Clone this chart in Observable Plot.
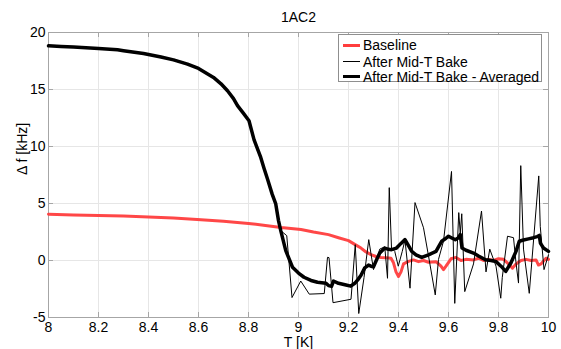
<!DOCTYPE html>
<html>
<head>
<meta charset="utf-8">
<script src="https://cdn.jsdelivr.net/npm/d3@7"></script>
<script src="https://cdn.jsdelivr.net/npm/@observablehq/plot@0.6"></script>
<style>
  html, body { margin: 0; padding: 0; background: #fff; }
  #wrap { position: relative; width: 561px; height: 349px; font-family: "Liberation Sans", Arial, sans-serif; }
  #legend { position: absolute; left: 338px; top: 34px; width: 204px; height: 48px; border: 1px solid #8f8f8f; background: #fff; box-sizing: border-box; }
  .row { position: absolute; left: 0; height: 16px; font-size: 14px; line-height: 16px; color: #000; white-space: nowrap; }
  .row .sw { position: absolute; left: 4px; width: 17px; top: 8px; }
  .row .lb { position: absolute; left: 24px; top: 0; }
</style>
</head>
<body>
<div id="wrap"></div>
<script>
const title = "1AC2";
const xLabel = "T [K]";
const yLabel = "Δ f [kHz]";
const seriesNames = ["Baseline", "After Mid-T Bake", "After Mid-T Bake - Averaged"];
const xTicks = [8, 8.2, 8.4, 8.6, 8.8, 9, 9.2, 9.4, 9.6, 9.8, 10];
const yTicks = [-5, 0, 5, 10, 15, 20];

// Baseline (red)
const baseT = [8.00, 8.10, 8.20, 8.30, 8.40, 8.50, 8.61, 8.70, 8.80, 8.86, 8.93, 9.01, 9.06, 9.12, 9.16, 9.20, 9.23, 9.25, 9.27, 9.29, 9.31, 9.33, 9.35, 9.37, 9.38, 9.39, 9.40, 9.41, 9.42, 9.44, 9.46, 9.48, 9.50, 9.52, 9.55, 9.57, 9.58, 9.59, 9.61, 9.63, 9.65, 9.67, 9.70, 9.72, 9.74, 9.76, 9.78, 9.80, 9.82, 9.84, 9.856, 9.87, 9.89, 9.91, 9.93, 9.95, 9.96, 9.97, 9.99, 10.0];
const baseF = [4.05, 4.00, 3.95, 3.90, 3.82, 3.72, 3.58, 3.45, 3.25, 3.10, 2.90, 2.72, 2.50, 2.27, 2.00, 1.74, 1.35, 1.09, 0.75, 0.52, 0.35, 0.27, 0.25, 0.20, -0.20, -1.00, -1.40, -1.00, -0.30, -0.08, 0.05, -0.10, 0.00, -0.15, -0.10, -0.50, -0.80, -0.50, 0.15, 0.27, 0.00, 0.10, 0.05, 0.20, 0.00, 0.10, 0.00, 0.15, 0.10, -0.30, -0.67, -0.30, 0.00, 0.10, 0.00, 0.05, -0.40, -0.30, 0.20, 0.10];

// After Mid-T Bake (raw, thin black)
const rawT = [8.00, 8.05, 8.10, 8.15, 8.20, 8.276, 8.30, 8.38, 8.45, 8.50, 8.556, 8.60, 8.66, 8.69, 8.716, 8.74, 8.75, 8.756, 8.78, 8.802, 8.815, 8.822, 8.836, 8.849, 8.862, 8.876, 8.895, 8.909, 8.92, 8.929, 8.953, 8.974, 9.009, 9.043, 9.103, 9.116, 9.122, 9.138, 9.21, 9.227, 9.241, 9.262, 9.281, 9.30, 9.325, 9.345, 9.356, 9.363, 9.372, 9.385, 9.399, 9.415, 9.426, 9.446, 9.466, 9.50, 9.52, 9.547, 9.56, 9.58, 9.612, 9.625, 9.641, 9.647, 9.653, 9.665, 9.70, 9.732, 9.75, 9.765, 9.79, 9.809, 9.815, 9.836, 9.86, 9.87, 9.88, 9.889, 9.90, 9.923, 9.961, 9.967, 9.982, 10.0];
const rawF = [18.85, 18.76, 18.74, 18.64, 18.62, 18.46, 18.42, 18.14, 17.88, 17.58, 17.25, 16.82, 16.10, 15.45, 14.95, 14.10, 13.95, 13.50, 12.95, 12.20, 11.20, 10.80, 9.60, 9.20, 8.00, 7.25, 5.70, 5.05, 3.40, 2.62, 2.18, -3.25, -1.80, -2.95, -2.90, 0.28, 0.25, -3.70, -3.40, 1.39, -4.65, -1.50, 1.83, -0.80, 1.00, 1.20, -1.56, 6.39, 1.09, 0.80, -0.50, 0.80, 1.80, -2.43, 5.08, 2.87, 0.40, -3.02, 0.10, 1.70, 7.81, -3.76, 4.20, 2.40, 4.10, -2.73, -0.30, 4.34, -1.00, 1.00, -0.50, -3.31, -1.50, 2.13, 2.00, -0.20, -1.98, 8.32, 1.00, -2.88, 7.42, 3.00, -0.80, 0.50];

// After Mid-T Bake - Averaged (thick black)
const avgT = [8.00, 8.05, 8.10, 8.15, 8.20, 8.276, 8.30, 8.38, 8.45, 8.50, 8.556, 8.60, 8.66, 8.69, 8.716, 8.74, 8.756, 8.78, 8.802, 8.822, 8.836, 8.849, 8.862, 8.876, 8.895, 8.909, 8.92, 8.929, 8.949, 8.976, 9.00, 9.022, 9.05, 9.076, 9.11, 9.12, 9.132, 9.14, 9.16, 9.19, 9.209, 9.225, 9.237, 9.25, 9.265, 9.28, 9.29, 9.30, 9.315, 9.325, 9.345, 9.36, 9.372, 9.392, 9.41, 9.426, 9.44, 9.453, 9.47, 9.493, 9.52, 9.55, 9.56, 9.573, 9.59, 9.60, 9.615, 9.627, 9.64, 9.647, 9.654, 9.67, 9.70, 9.72, 9.748, 9.77, 9.789, 9.81, 9.829, 9.85, 9.87, 9.883, 9.90, 9.92, 9.94, 9.955, 9.963, 9.968, 9.98, 10.0];
const avgF = [18.83, 18.78, 18.72, 18.66, 18.60, 18.48, 18.40, 18.16, 17.85, 17.60, 17.23, 16.85, 16.06, 15.50, 14.89, 14.20, 13.58, 12.90, 12.26, 10.60, 9.80, 9.04, 8.10, 7.15, 5.80, 4.96, 3.50, 2.62, 0.87, -0.59, -1.10, -1.47, -1.75, -1.91, -2.00, -2.20, -2.27, -1.80, -2.00, -2.15, -2.25, -2.00, -1.70, -1.30, -0.65, -0.40, -0.50, -0.55, 0.20, 0.65, 1.09, 0.98, 0.95, 1.09, 1.50, 1.83, 1.30, 0.80, 0.50, 0.27, 0.50, 0.80, 1.20, 1.69, 1.95, 2.13, 1.95, 1.83, 2.00, 2.27, 1.09, 0.90, 0.65, 0.40, 0.07, 0.00, -0.08, -0.50, -0.96, -0.20, 0.80, 1.69, 1.80, 1.90, 2.00, 2.10, 2.20, 1.50, 1.10, 0.80];

const toRows = (xs, ys) => xs.map((x, i) => ({x, y: ys[i]}));
const base = toRows(baseT, baseF);
const raw = toRows(rawT, rawF);
const avg = toRows(avgT, avgF);

const colors = ["#ff3d3d", "#000000", "#000000"];
const widths = [3, 1, 3.5];
const font = "'Liberation Sans', Arial, sans-serif";

const chart = Plot.plot({
  width: 561,
  height: 349,
  marginLeft: 48,
  marginRight: 13,
  marginTop: 32,
  marginBottom: 32,
  style: {fontFamily: font, fontSize: "14px", color: "#000", background: "#fff"},
  x: {domain: [8, 10], ticks: xTicks},
  y: {domain: [-5, 20], ticks: yTicks},
  marks: [
    Plot.gridX(xTicks, {stroke: "#e6e6e6", strokeOpacity: 1}),
    Plot.gridY(yTicks, {stroke: "#e6e6e6", strokeOpacity: 1}),
    Plot.tickX(xTicks, {x: d => d, insetTop: 280, stroke: "#a6a6a6"}),
    Plot.tickX(xTicks, {x: d => d, insetBottom: 280, stroke: "#a6a6a6"}),
    Plot.tickY(yTicks, {y: d => d, insetRight: 495, stroke: "#a6a6a6"}),
    Plot.tickY(yTicks, {y: d => d, insetLeft: 495, stroke: "#a6a6a6"}),
    Plot.frame({stroke: "#a6a6a6"}),
    Plot.axisX(xTicks, {tickSize: 0, tickPadding: 5, fontSize: 14, tickFormat: d => String(d), label: null}),
    Plot.axisY(yTicks, {tickSize: 0, tickPadding: 3, fontSize: 14, tickFormat: d => String(d), label: null}),
    Plot.line(base, {x: "x", y: "y", stroke: colors[0], strokeWidth: widths[0], strokeOpacity: 0.95}),
    Plot.line(raw, {x: "x", y: "y", stroke: colors[1], strokeWidth: widths[1]}),
    Plot.line(avg, {x: "x", y: "y", stroke: colors[2], strokeWidth: widths[2], strokeLinejoin: "round"}),
    Plot.text([title], {frameAnchor: "top", dy: -15, fontSize: 14, lineAnchor: "middle"}),
    Plot.text([xLabel], {frameAnchor: "bottom", dy: 25.5, fontSize: 14, lineAnchor: "middle"}),
    Plot.text([yLabel], {frameAnchor: "left", dx: -26, rotate: -90, fontSize: 14, lineAnchor: "middle"})
  ]
});

const wrap = document.getElementById("wrap");
wrap.appendChild(chart);

const legend = document.createElement("div");
legend.id = "legend";
const rowTops = [2, 18.5, 33.5];
seriesNames.forEach((name, i) => {
  const row = document.createElement("div");
  row.className = "row";
  row.style.top = rowTops[i] + "px";
  const sw = document.createElement("span");
  sw.className = "sw";
  sw.style.borderTop = `${widths[i]}px solid ${colors[i]}`;
  sw.style.marginTop = `${-widths[i] / 2}px`;
  const lb = document.createElement("span");
  lb.className = "lb";
  lb.textContent = name;
  row.appendChild(sw);
  row.appendChild(lb);
  legend.appendChild(row);
});
wrap.appendChild(legend);
</script>
</body>
</html>
